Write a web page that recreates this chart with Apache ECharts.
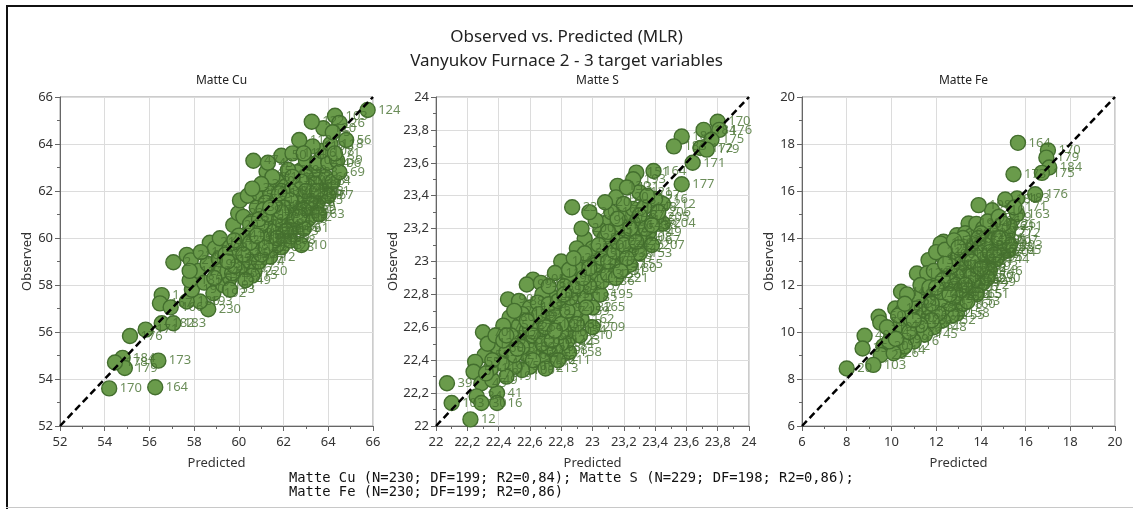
<!DOCTYPE html>
<html>
<head>
<meta charset="utf-8">
<script src="https://cdn.jsdelivr.net/npm/echarts@6/dist/echarts.min.js"></script>
<style>
  html, body { margin: 0; padding: 0; background: #fff; }
  #chart { width: 1133px; height: 509px; }
</style>
</head>
<body>
<div id="chart"></div>
<script>
// Observed vs. predicted values for the three matte components, [predicted, observed, observation no.]
const cuPoints = [
  [54.20,53.60,170],[56.26,53.65,164],[56.40,54.78,173],[54.80,54.90,184],[54.90,54.47,179],
  [54.46,54.70,178],[55.13,55.83,176],[55.83,56.10,171],[56.55,56.37,182],[57.07,56.37,183],
  [56.55,57.57,1],[56.47,57.22,167],[56.95,57.05,166],[58.63,56.97,230],[58.26,57.30,193],
  [57.67,57.30,186],[57.90,57.80,190],[57.80,58.20,185],[57.07,58.97,2],[57.67,59.28,216],
  [57.85,59.05,210],[58.20,58.60,212],[58.45,58.10,195],[58.86,57.65,192],[58.70,59.80,214],
  [58.93,59.56,200],[59.15,59.99,204],[58.60,58.90,198],[59.00,58.40,194],[59.30,58.00,191],
  [59.60,58.30,188],[59.10,59.10,205],[59.40,58.80,207],[59.75,60.55,20],[59.97,61.05,22],
  [60.05,61.60,24],[60.40,61.80,25],[60.20,60.90,28],[59.60,59.60,211],[59.90,59.20,208],
  [60.10,58.70,197],[60.30,59.40,203],[60.50,59.00,217],[60.70,58.60,220],[60.40,60.20,33],
  [60.60,60.70,35],[60.80,61.30,37],[60.90,61.90,40],[61.24,62.82,45],[60.65,63.29,47],
  [61.30,63.20,48],[61.90,63.50,50],[61.10,60.30,52],[61.30,59.80,54],[61.00,59.60,57],
  [60.80,59.90,58],[61.50,60.10,60],[61.20,60.80,62],[61.60,60.60,64],[61.90,59.60,128],
  [62.00,60.00,65],[62.30,59.90,68],[62.80,59.70,10],[62.20,60.40,189],[62.00,61.00,70],
  [62.40,61.40,72],[62.80,61.10,18],[62.20,61.80,74],[62.60,61.70,76],[63.00,61.60,11],
  [62.90,62.10,78],[62.50,62.40,80],[63.20,62.00,82],[63.40,61.90,84],[63.60,62.40,86],
  [63.85,62.60,66],[63.30,62.80,88],[62.80,62.90,90],[62.20,62.70,92],[61.70,62.40,94],
  [61.40,61.90,96],[61.90,61.40,98],[61.60,61.10,100],[63.00,63.30,102],[63.50,63.20,104],
  [64.00,63.20,106],[64.40,63.30,39],[63.70,63.70,108],[63.30,63.90,110],[62.70,64.17,112],
  [62.40,63.60,114],[62.90,63.60,116],[64.10,64.00,118],[64.80,64.17,56],[63.78,64.67,120],
  [63.26,64.95,122],[64.30,65.20,103],[64.50,64.90,26],[65.76,65.45,124],[64.20,64.50,5],
  [63.90,62.00,3],[64.20,62.40,4],[63.50,61.50,6],[63.10,60.80,7],[62.60,60.50,8],
  [62.10,60.60,9],[61.40,59.20,12],[61.70,59.70,13],[60.90,59.00,14],[60.60,58.40,15],
  [61.00,60.10,16],[61.30,60.40,17],[61.80,60.20,19],[62.30,61.10,21],[62.70,61.90,23],
  [62.10,62.20,27],[62.60,62.80,29],[61.90,62.00,30],[61.50,62.60,31],[61.00,62.30,32],
  [60.60,62.10,34],[61.20,61.50,36],[60.20,59.70,38],[60.00,60.10,41],[59.80,59.90,42],
  [59.40,59.30,43],[59.20,58.60,44],[59.70,58.50,46],[60.30,58.20,49],[58.90,58.30,51],
  [59.60,57.80,53],[62.40,60.80,55],[63.20,61.30,59],[62.90,60.40,61],[63.60,61.00,63],
  [64.00,61.80,67],[64.50,62.80,69],[64.30,63.60,71],[63.00,62.60,73],[62.20,62.90,75],
  [61.50,60.90,77],[60.80,60.40,79],[61.60,59.90,81],[62.00,60.50,83],[62.60,61.30,85],
  [62.30,62.00,87],[63.40,62.30,89],[61.10,61.20,91],[60.70,60.00,93],[61.40,60.60,95],
  [61.20,60.00,97],[61.00,59.30,99],[62.80,61.50,101],[62.50,61.00,105],[63.30,61.80,107],
  [62.00,61.70,109],[61.70,61.60,111],[60.50,60.60,113],[58.30,59.40,115],[57.80,58.60,117],
  [61.10,60.00,119],[61.30,60.20,121],[60.90,60.20,123],[61.50,60.40,125],[61.00,60.60,126],
  [61.40,60.00,127],[60.70,59.60,129],[61.20,59.60,130],[61.60,60.30,131],[60.90,60.80,132],
  [61.30,61.00,133],[61.80,60.80,134],[62.20,61.20,135],[62.50,61.60,136],[62.70,61.40,137],
  [62.40,62.10,138],[62.90,61.80,139],[62.60,62.10,140],[63.10,62.20,141],[62.30,61.60,142],
  [62.00,61.30,143],[62.80,62.40,144],[63.20,61.60,145],[62.50,60.80,146],[61.90,61.10,147],
  [61.60,61.40,148],[60.50,59.80,149],[60.20,59.30,150],[59.80,58.80,151],[59.50,59.00,152],
  [62.10,60.30,153],[61.80,61.90,154],[63.00,62.00,155],[62.40,62.60,156],[61.40,61.30,157],
  [60.80,60.10,158],[61.70,60.00,159],[62.90,61.20,160],[63.50,62.00,161],[62.70,60.90,162]
];

const sPoints = [
  [23.80,23.85,170],[23.71,23.80,184],[23.81,23.80,176],[23.76,23.74,175],[23.69,23.69,172],
  [23.57,23.76,181],[23.52,23.70,183],[23.64,23.60,171],[23.57,23.47,177],[23.73,23.68,179],
  [23.28,23.54,151],[23.39,23.55,164],[23.26,23.50,193],[23.16,23.46,130],[23.15,23.39,120],
  [22.87,23.33,23],[23.10,23.24,140],[23.05,23.19,135],[22.95,23.14,128],[22.90,23.08,125],
  [22.80,23.00,118],[22.76,22.93,110],[22.62,22.89,105],[22.58,22.86,99],[22.67,22.87,98],
  [22.46,22.77,90],[22.53,22.76,88],[22.47,22.66,80],[22.43,22.61,75],[22.53,22.61,72],
  [22.30,22.57,70],[22.40,22.47,60],[22.31,22.43,58],[22.25,22.39,55],[22.24,22.33,50],
  [22.29,22.26,45],[22.07,22.26,39],[22.26,22.18,34],[22.10,22.14,103],[22.29,22.14,30],
  [22.39,22.20,41],[22.39,22.14,16],[22.22,22.04,12],[22.85,22.45,158],[22.84,22.52,223],
  [23.20,22.96,180],[23.35,23.13,167],[23.45,23.23,204],[23.41,23.27,205],[23.45,23.35,212],
  [23.40,23.38,216],[23.30,23.42,121],[23.22,23.45,131],[22.95,22.78,185],[23.05,22.80,195],
  [23.00,22.72,165],[22.93,22.65,162],[22.88,22.58,154],[22.80,22.50,144],[22.70,22.42,152],
  [22.60,22.36,192],[22.55,22.34,100],[22.50,22.36,150],[22.45,22.30,191],[22.36,22.28,49],
  [22.45,22.45,52],[22.52,22.52,56],[22.60,22.50,62],[22.65,22.60,66],[22.72,22.55,68],
  [22.78,22.65,74],[22.70,22.70,78],[22.62,22.66,82],[22.58,22.58,84],[22.75,22.78,86],
  [22.82,22.72,92],[22.88,22.82,94],[22.85,22.90,96],[22.68,22.80,102],[22.73,22.62,104],
  [22.66,22.52,106],[22.76,22.46,108],[22.57,22.44,112],[22.64,22.42,114],[22.50,22.43,116],
  [22.42,22.38,117],[22.35,22.35,119],[22.33,22.50,122],[22.38,22.55,124],[22.48,22.55,126],
  [22.92,22.95,127],[22.98,23.00,129],[23.03,22.92,132],[23.08,23.05,133],[23.12,23.10,134],
  [23.06,22.88,136],[23.13,22.98,137],[23.18,23.05,138],[23.15,23.18,139],[23.22,23.15,141],
  [23.25,23.08,142],[23.28,23.22,143],[23.32,23.25,145],[23.20,23.28,146],[23.26,23.32,147],
  [23.33,23.33,148],[23.36,23.18,149],[23.30,23.05,153],[23.24,22.98,155],[23.10,22.92,156],
  [22.98,22.85,157],[22.90,22.70,159],[22.85,22.62,160],[22.80,22.57,161],[22.72,22.48,163],
  [22.68,22.40,166],[22.62,22.46,168],[22.55,22.48,169],[22.43,22.52,173],[22.36,22.40,174],
  [22.32,22.32,178],[22.60,22.72,182],[22.55,22.68,186],[22.65,22.75,187],[22.72,22.85,188],
  [22.82,22.85,189],[23.00,23.08,190],[23.08,23.15,194],[23.18,23.22,196],[23.35,23.40,197],
  [23.12,23.30,198],[23.02,23.25,199],[22.93,23.20,200],[22.98,23.30,201],[23.08,23.36,202],
  [23.20,23.35,203],[23.42,23.30,206],[23.38,23.10,207],[23.30,23.15,208],[23.00,22.60,209],
  [22.92,22.55,210],[22.78,22.40,211],[22.70,22.35,213],[22.60,22.60,214],[22.50,22.70,215],
  [22.45,22.55,217],[22.85,22.95,218],[22.95,23.05,219],[22.88,23.02,220],[23.15,22.90,221],
  [22.70,22.60,1],[22.75,22.68,2],[22.80,22.62,3],[22.66,22.68,4],[22.72,22.74,5],
  [22.78,22.76,6],[22.84,22.70,7],[22.62,22.55,8],[22.68,22.50,9],[22.74,22.52,10],
  [22.86,22.78,11],[22.90,22.85,13],[22.94,22.90,14],[23.02,22.98,15],[23.06,23.02,17],
  [23.10,23.00,18],[23.14,23.06,19],[23.04,23.10,20],[23.10,23.18,21],[23.16,23.12,22],
  [23.20,23.10,24],[23.24,23.20,25],[23.28,23.12,26],[23.30,23.28,27],[23.34,23.20,28],
  [23.22,23.02,29],[23.18,22.94,31],[22.96,22.72,32],[22.90,22.62,33],[22.58,22.64,35],
  [22.52,22.47,36],[22.62,22.40,37],[23.38,23.22,38],[23.16,23.26,40],[22.98,22.96,42],
  [22.82,22.80,43],[22.76,22.58,44]
];

const fePoints = [
  [15.66,18.05,164],[17.00,17.73,170],[16.93,17.42,179],[17.06,17.00,184],[16.73,16.77,175],
  [15.46,16.71,173],[16.43,15.86,176],[15.62,15.68,183],[15.09,15.64,181],[14.50,15.18,210],
  [13.90,15.40,198],[15.62,15.01,163],[15.50,15.30,171],[13.45,14.62,190],[12.93,14.12,185],
  [12.33,13.84,150],[12.20,13.76,140],[11.66,13.06,130],[11.14,12.49,120],[10.43,11.71,110],
  [10.17,11.00,100],[9.43,10.65,60],[9.50,10.40,55],[8.80,9.84,40],[8.71,9.30,35],
  [9.64,9.40,30],[9.52,9.02,28],[9.19,8.60,103],[8.00,8.45,20],[10.39,9.23,14],
  [12.93,10.79,158],[15.24,13.48,205],[15.00,13.40,204],[15.10,13.90,207],[14.90,14.30,177],
  [14.60,14.50,186],[15.20,14.20,212],[14.80,13.80,200],[14.40,13.20,195],[14.20,12.80,193],
  [14.00,12.40,180],[13.80,12.00,172],[13.50,11.60,165],[13.20,11.20,160],[12.70,10.70,155],
  [12.30,10.50,152],[11.90,10.20,148],[11.50,9.90,145],[11.00,9.60,16],[10.60,9.40,12],
  [10.10,9.10,26],[9.90,9.60,10],[10.00,10.00,45],[10.40,10.30,48],[10.80,10.60,50],
  [10.50,10.90,52],[10.90,11.30,58],[11.20,11.50,62],[11.10,11.00,64],[11.40,10.70,66],
  [11.70,11.00,68],[11.80,11.60,70],[11.50,11.90,72],[11.90,12.20,74],[12.10,11.80,76],
  [12.00,11.30,78],[12.30,11.00,80],[12.50,11.50,82],[12.40,12.00,84],[12.20,12.50,86],
  [12.50,12.80,88],[12.60,13.30,90],[12.30,13.20,92],[12.80,13.60,94],[13.10,13.80,96],
  [13.30,14.20,98],[13.60,14.10,102],[13.80,14.60,104],[14.10,14.40,106],[13.90,13.70,108],
  [13.60,13.40,112],[13.30,13.00,114],[13.00,12.60,116],[12.80,12.20,118],[12.70,11.80,122],
  [13.00,11.50,124],[13.30,11.90,126],[13.50,12.30,128],[13.70,12.70,132],[13.90,13.10,134],
  [14.10,13.50,136],[14.30,13.90,138],[14.50,13.60,142],[14.70,13.10,144],[14.40,12.60,146],
  [14.10,12.10,149],[13.80,11.60,151],[13.40,11.30,153],[13.20,12.50,154],[13.40,12.80,156],
  [13.60,12.90,157],[13.80,13.30,159],[14.00,13.00,161],[13.70,12.20,162],[13.10,12.20,166],
  [12.90,12.90,167],[13.20,13.30,168],[12.70,12.50,169],[12.40,11.60,174],[12.60,11.20,178],
  [12.10,10.80,182],[11.80,10.50,187],[11.30,10.30,188],[10.80,10.00,189],[11.60,12.50,191],
  [11.30,12.00,192],[10.70,11.60,194],[10.30,10.70,196],[9.80,10.20,197],[10.20,9.70,199],
  [14.60,13.95,201],[14.90,13.60,202],[15.30,13.70,203],[14.30,14.70,206],[14.00,14.20,208],
  [14.80,14.90,209],[15.30,14.50,211],[12.00,13.40,213],[12.40,13.50,214],[13.50,13.70,215],
  [13.00,13.20,216],[12.60,12.00,217],[12.90,11.60,218],[12.20,11.40,219],[11.70,11.90,220],
  [14.20,13.30,221],[13.70,13.60,222],[11.90,12.60,223],[10.60,11.20,224],[11.00,10.50,225],
  [15.00,14.60,226],[13.20,14.00,227],[12.80,13.90,228],[13.40,12.10,229],[14.30,12.30,230],
  [13.20,12.30,1],[13.50,12.60,2],[13.70,12.90,3],[13.90,12.60,4],[13.30,12.70,5],
  [13.60,12.40,6],[13.40,13.20,7],[13.80,12.80,8],[14.00,13.30,9],[13.10,12.90,11],
  [12.90,12.40,13],[12.60,12.20,15],[12.40,11.90,17],[12.80,11.50,18],[12.50,11.90,19],
  [12.20,11.70,21],[12.90,12.00,22],[13.10,11.80,23],[12.70,12.80,24],[13.50,13.10,25],
  [14.20,13.70,27],[14.40,13.40,29],[13.60,13.00,31],[12.30,12.20,32],[12.00,11.90,33],
  [11.80,11.20,34],[12.60,11.60,36],[13.30,12.00,37],[14.00,12.70,38],[14.60,13.30,39],
  [14.80,14.00,41],[13.90,14.00,42],[13.00,13.60,43],[12.40,12.90,44]
];

// Axis ranges [min, max, tick step] shared by both axes of each panel
const panelNames = ['Matte Cu', 'Matte S', 'Matte Fe'];
const panelRanges = [[52, 66, 2], [22, 24, 0.2], [6, 20, 2]];
const panelData = [cuPoints, sPoints, fePoints];

const chartTitle = 'Observed vs. Predicted (MLR)\nVanyukov Furnace 2 - 3 target variables';
const footnoteLines = [
  'Matte Cu (N=230; DF=199; R2=0,84); Matte S (N=229; DF=198; R2=0,86);',
  'Matte Fe (N=230; DF=199; R2=0,86)'
];

const FONT = '"Segoe UI", "Noto Sans", "Open Sans", sans-serif';
const gridLefts = [60, 436, 802];
const gridTop = 97, gridW = 313, gridH = 329;
const MARK = 15;

function fmt(step) {
  return function (v) {
    const s = step < 1 ? (Math.round(v * 10) / 10).toString() : String(Math.round(v));
    return s.replace('.', ',');
  };
}

function makeAxis(i, isX) {
  const [min, max, step] = panelRanges[i];
  return {
    type: 'value',
    gridIndex: i,
    min: min, max: max, interval: step,
    name: isX ? 'Predicted' : 'Observed',
    nameLocation: 'middle',
    nameGap: isX ? 31 : 26,
    nameTextStyle: { fontFamily: FONT, fontSize: 13, color: '#333' },
    axisLine: { show: true, onZero: false, lineStyle: { color: '#666', width: 1 } },
    axisTick: { show: true, inside: false, length: 5, lineStyle: { color: '#666' } },
    minorTick: { show: true, splitNumber: 2, length: 3, lineStyle: { color: '#666' } },
    splitLine: { show: true, lineStyle: { color: '#dcdcdc', width: 1 } },
    axisLabel: {
      fontFamily: FONT, fontSize: 13, color: '#333', margin: isX ? 10 : 7,
      formatter: fmt(step)
    }
  };
}

const grids = [], xAxes = [], yAxes = [], series = [], titles = [];
titles.push({
  text: chartTitle,
  left: 'center', top: 20,
  textStyle: { fontFamily: FONT, fontSize: 17, fontWeight: 'normal', color: '#222', lineHeight: 24 }
});

for (let i = 0; i < 3; i++) {
  grids.push({
    left: gridLefts[i], top: gridTop, width: gridW, height: gridH,
    show: true, borderColor: '#999', borderWidth: 1, backgroundColor: 'transparent'
  });
  xAxes.push(makeAxis(i, true));
  yAxes.push(makeAxis(i, false));
  titles.push({
    text: panelNames[i],
    left: gridLefts[i] + gridW / 2, top: 70, textAlign: 'center',
    textStyle: { fontFamily: FONT, fontSize: 12, fontWeight: 'normal', color: '#222' }
  });
  // markers
  series.push({
    type: 'scatter',
    xAxisIndex: i, yAxisIndex: i,
    data: panelData[i],
    encode: { x: 0, y: 1 },
    symbolSize: MARK,
    z: 2,
    itemStyle: { color: '#6a9b4b', borderColor: '#436e2e', borderWidth: 1.4, opacity: 1 },
    emphasis: { disabled: true },
    animation: false
  });
  // observation numbers, drawn above all markers
  series.push({
    type: 'scatter',
    xAxisIndex: i, yAxisIndex: i,
    data: panelData[i],
    encode: { x: 0, y: 1 },
    symbolSize: MARK,
    z: 3,
    itemStyle: { color: 'rgba(0,0,0,0)', borderWidth: 0 },
    label: {
      show: true, position: 'right', distance: 3,
      formatter: p => String(p.data[2]),
      fontFamily: FONT, fontSize: 13, color: '#46702f'
    },
    labelLayout: { hideOverlap: false },
    emphasis: { disabled: true },
    silent: true,
    animation: false
  });
  const [mn, mx] = panelRanges[i];
  series.push({
    type: 'line',
    xAxisIndex: i, yAxisIndex: i,
    data: [[mn, mn], [mx, mx]],
    symbol: 'none',
    z: 5,
    lineStyle: { color: '#000', width: 2.5, type: [7, 4] },
    animation: false,
    silent: true
  });
}

const chart = echarts.init(document.getElementById('chart'), null, { renderer: 'canvas' });
chart.setOption({
  animation: false,
  backgroundColor: '#fff',
  title: titles,
  grid: grids,
  xAxis: xAxes,
  yAxis: yAxes,
  series: series,
  graphic: [
    { type: 'rect', shape: { x: 6, y: 5, width: 1140, height: 2 }, style: { fill: '#111' }, silent: true },
    { type: 'rect', shape: { x: 6, y: 5, width: 2, height: 510 }, style: { fill: '#111' }, silent: true },
    { type: 'rect', shape: { x: 6, y: 507, width: 1140, height: 1 }, style: { fill: '#c8c8c8' }, silent: true },
    {
      type: 'text', left: 289, top: 471,
      style: {
        text: footnoteLines.join('\n'),
        font: '13.8px "DejaVu Sans Mono", "Liberation Mono", monospace',
        fill: '#111', lineHeight: 14
      },
      silent: true
    }
  ]
});
</script>
</body>
</html>
